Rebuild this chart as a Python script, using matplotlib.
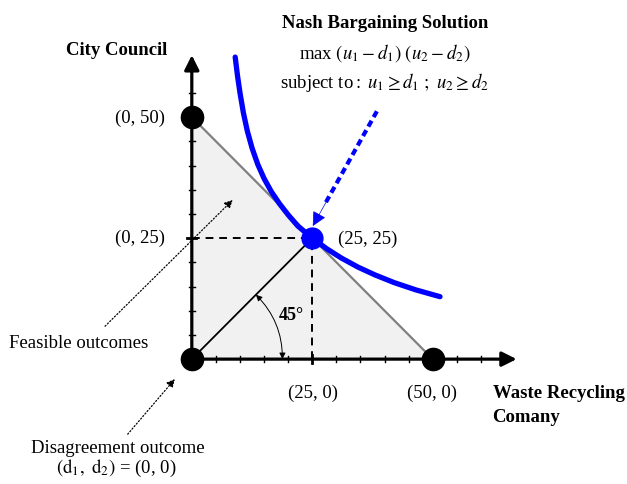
import matplotlib
matplotlib.use("Agg")
import matplotlib.pyplot as plt
from matplotlib.patches import FancyArrowPatch, Polygon

plt.rcParams["font.family"] = ["Liberation Serif", "DejaVu Serif"]
plt.rcParams["mathtext.fontset"] = "stix"

# feasible set corners and bargaining points
corner_u1 = [0, 0, 50]
corner_u2 = [0, 50, 0]
disagreement = (0, 0)
nash_point = (25, 25)
corner_labels = ["(0, 50)", "(50, 0)"]

# Nash product contour
curve_u1 = [9.0, 9.5, 10.0, 10.7, 11.5, 12.5, 13.7, 15.0, 16.5, 18.2, 20.0,
            22.0, 25.0, 28.0, 31.0, 34.5, 38.0, 42.0, 46.5, 51.5]
curve_u2 = [62.4, 58.4, 55.0, 50.9, 47.2, 43.6, 40.2, 37.3, 34.6, 32.1, 29.8,
            27.5, 25.0, 22.8, 20.9, 19.0, 17.4, 15.8, 14.3, 12.9]

tick_values = [5, 10, 15, 20, 25, 30, 35, 40, 45, 50, 55, 60]


def draw_axes(ax):
    ax.annotate("", xy=(67.4, 0), xytext=(0, 0),
                arrowprops=dict(arrowstyle="-|>", lw=2.3, color="black",
                                mutation_scale=22, shrinkA=0, shrinkB=0))
    ax.annotate("", xy=(0, 62.8), xytext=(0, 0),
                arrowprops=dict(arrowstyle="-|>", lw=2.3, color="black",
                                mutation_scale=22, shrinkA=0, shrinkB=0))
    for t in tick_values:
        h = 0.9 if t == 25 else 0.6
        w = 2.0 if t == 25 else 1.0
        ax.plot([t, t], [-h, h], color="black", lw=w, zorder=3)
        ax.plot([-h, h], [t, t], color="black", lw=w, zorder=3)


fig = plt.figure(figsize=(6.27, 4.85), dpi=100)
ax = fig.add_axes([0, 0, 1, 1])
ax.set_xlim(-39.8, 90.3)
ax.set_ylim(-25.8, 74.4)
ax.axis("off")

# feasible region
tri = Polygon(list(zip(corner_u1, corner_u2)), closed=True,
              facecolor="#f1f1f1", edgecolor="none", zorder=0)
ax.add_patch(tri)
ax.plot([corner_u1[1], corner_u1[2]], [corner_u2[1], corner_u2[2]],
        color="#808080", lw=1.6, zorder=1)

# guide lines to the Nash point
ax.plot([0, nash_point[0]], [nash_point[1], nash_point[1]], color="black",
        lw=1.4, ls=(0, (4, 3)), zorder=2)
ax.plot([nash_point[0], nash_point[0]], [0, nash_point[1]], color="black",
        lw=1.4, ls=(0, (4, 3)), zorder=2)
ax.plot([disagreement[0], nash_point[0]], [disagreement[1], nash_point[1]],
        color="black", lw=1.3, zorder=2)

draw_axes(ax)

# 45 degree arc
arc = FancyArrowPatch((13.3, 13.3), (18.8, 0.0),
                      connectionstyle="arc3,rad=-0.207",
                      arrowstyle="<|-|>", mutation_scale=9, lw=0.7,
                      color="black", shrinkA=0, shrinkB=0, zorder=3)
ax.add_patch(arc)
ax.text(20.7, 9.3, "45°", fontsize=13, fontweight="bold",
        ha="center", va="center")

# Nash product contour
ax.plot(curve_u1, curve_u2, color="#0000ff", lw=3.8, zorder=4,
        solid_capstyle="round", solid_joinstyle="round")

# points
ax.plot(corner_u1, corner_u2, "o", color="black", ms=16, zorder=5)
ax.plot([nash_point[0]], [nash_point[1]], "o", color="#0000ff", ms=15, zorder=5)

# blue dashed pointer
ax.plot([38.4, 27.6], [51.2, 32.0], color="#0000ff", lw=3.0,
        ls=(0, (1.6, 1.0)), zorder=6)
ax.annotate("", xy=(25.1, 27.5), xytext=(27.9, 32.5),
            arrowprops=dict(arrowstyle="-|>", lw=0.5, color="#0000ff",
                            mutation_scale=22, shrinkA=0, shrinkB=0), zorder=6)

# point labels
fs = 13.5
ax.text(-5.6, 50, corner_labels[0], fontsize=fs, ha="right", va="center")
ax.text(-5.6, 25.2, "(0, 25)", fontsize=fs, ha="right", va="center")
ax.text(30.3, 25, "(25, 25)", fontsize=fs, ha="left", va="center")
ax.text(25.1, -6.8, "(25, 0)", fontsize=fs, ha="center", va="center")
ax.text(49.8, -6.8, corner_labels[1], fontsize=fs, ha="center", va="center")

# axis titles
ax.text(-15.6, 64.0, "City Council", fontsize=fs, fontweight="bold",
        ha="center", va="center")
ax.text(62.4, -6.8, "Waste Recycling", fontsize=fs, fontweight="bold",
        ha="left", va="center")
ax.text(62.4, -11.8, "Comany", fontsize=fs, fontweight="bold",
        ha="left", va="center")

# Nash bargaining box
ax.text(40.1, 69.6, "Nash Bargaining Solution", fontsize=fs, fontweight="bold",
        ha="center", va="center")
ax.text(40.0, 63.4, r"max $(u_1 - d_1)\ (u_2 - d_2)$", fontsize=fs,
        ha="center", va="center")
ax.text(40.0, 57.4, r"subject to$:\ u_1 \geq d_1\ ;\ u_2 \geq d_2$",
        fontsize=fs, ha="center", va="center")

# annotations
ax.annotate("", xy=(8.5, 32.9), xytext=(-18.0, 6.8),
            arrowprops=dict(arrowstyle="-|>", lw=0.9, color="black", ls=":",
                            mutation_scale=12, shrinkA=0, shrinkB=0))
ax.text(-23.4, 3.5, "Feasible outcomes", fontsize=fs, ha="center", va="center")

ax.annotate("", xy=(-3.5, -4.1), xytext=(-13.3, -15.5),
            arrowprops=dict(arrowstyle="-|>", lw=0.9, color="black", ls=":",
                            mutation_scale=12, shrinkA=0, shrinkB=0))
ax.text(-15.4, -18.2, "Disagreement outcome", fontsize=fs, ha="center",
        va="center")
ax.text(-15.6, -22.3, r"$(\mathrm{d}_1,\ \mathrm{d}_2)$ = (0, 0)", fontsize=fs,
        ha="center", va="center")

fig.savefig("out.png", dpi=100)
